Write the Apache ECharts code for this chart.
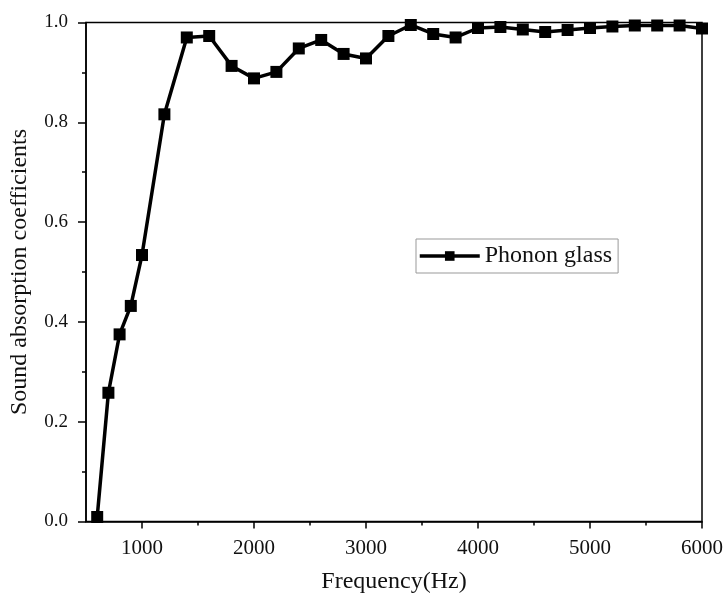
<!DOCTYPE html>
<html>
<head>
<meta charset="utf-8">
<script src="https://cdn.jsdelivr.net/npm/echarts@6/dist/echarts.min.js"></script>
<style>
  html, body { margin: 0; padding: 0; background: #fff; }
  #chart { width: 726px; height: 599px; }
</style>
</head>
<body>
<div id="chart"></div>
<script>
// Measured sound absorption of the phonon glass sample
const frequencies = [600, 700, 800, 900, 1000, 1200, 1400, 1600, 1800, 2000, 2200, 2400, 2600, 2800,
  3000, 3200, 3400, 3600, 3800, 4000, 4200, 4400, 4600, 4800, 5000, 5200, 5400, 5600, 5800, 6000];
const coefficients = [0.009, 0.258, 0.375, 0.432, 0.534, 0.816, 0.970, 0.973, 0.913, 0.888, 0.901, 0.948, 0.965, 0.937,
  0.928, 0.973, 0.995, 0.977, 0.970, 0.989, 0.991, 0.986, 0.981, 0.985, 0.989, 0.992, 0.994, 0.994, 0.994, 0.988];
const seriesName = 'Phonon glass';
const xMajorTicks = [1000, 2000, 3000, 4000, 5000, 6000];
const xMinorTicks = [1500, 2500, 3500, 4500, 5500];

const FONT = '"Liberation Serif", "Times New Roman", serif';
const points = frequencies.map((f, i) => [f, coefficients[i]]);

const chart = echarts.init(document.getElementById('chart'), null, { renderer: 'canvas' });
chart.setOption({
  backgroundColor: '#fff',
  animation: false,
  grid: {
    left: 82.5, right: 23, top: 22.5, bottom: 77.5,
    show: true, borderColor: '#000', borderWidth: 1.5, backgroundColor: 'transparent'
  },
  legend: {
    show: true,
    data: [seriesName],
    left: 416, top: 239,
    orient: 'horizontal',
    backgroundColor: '#fff',
    borderColor: '#999', borderWidth: 1,
    padding: [5, 6, 5, 2],
    itemWidth: 60, itemHeight: 12,
    lineStyle: { width: 3.5, color: '#000' },
    textStyle: { fontFamily: FONT, fontSize: 24, color: '#111' }
  },
  xAxis: [{
    type: 'value', min: 500, max: 6000,
    name: 'Frequency(Hz)', nameLocation: 'middle', nameGap: 48,
    nameTextStyle: { fontFamily: FONT, fontSize: 24, color: '#111' },
    axisLine: { show: true, onZero: false, lineStyle: { color: '#000', width: 1.5 } },
    axisTick: { show: true, inside: false, length: 7, customValues: xMajorTicks, lineStyle: { color: '#000', width: 1.5 } },
    axisLabel: { show: true, customValues: xMajorTicks, margin: 16, fontFamily: FONT, fontSize: 21, color: '#111',
      formatter: v => String(v) },
    splitLine: { show: false }
  }, {
    type: 'value', min: 500, max: 6000, position: 'bottom',
    axisLine: { show: false },
    axisTick: { show: true, inside: false, length: 4, customValues: xMinorTicks, lineStyle: { color: '#000', width: 1.5 } },
    axisLabel: { show: false },
    splitLine: { show: false }
  }],
  yAxis: {
    type: 'value', min: 0, max: 1, interval: 0.2,
    name: 'Sound absorption coefficients', nameLocation: 'middle', nameGap: 54,
    nameTextStyle: { fontFamily: FONT, fontSize: 24, color: '#111' },
    axisLine: { show: true, onZero: false, lineStyle: { color: '#000', width: 1.5 } },
    axisTick: { show: true, inside: false, length: 8, lineStyle: { color: '#000', width: 1.5 } },
    minorTick: { show: true, splitNumber: 2, length: 4, lineStyle: { color: '#000', width: 1.5 } },
    axisLabel: { margin: 18, fontFamily: FONT, fontSize: 19, color: '#111', formatter: v => v.toFixed(1) },
    splitLine: { show: false }
  },
  series: [{
    name: seriesName,
    type: 'line',
    xAxisIndex: 0,
    data: points,
    symbol: 'rect', symbolSize: 12,
    showAllSymbol: true,
    clip: false,
    lineStyle: { color: '#000', width: 3.5 },
    itemStyle: { color: '#000' }
  }]
});
</script>
</body>
</html>
